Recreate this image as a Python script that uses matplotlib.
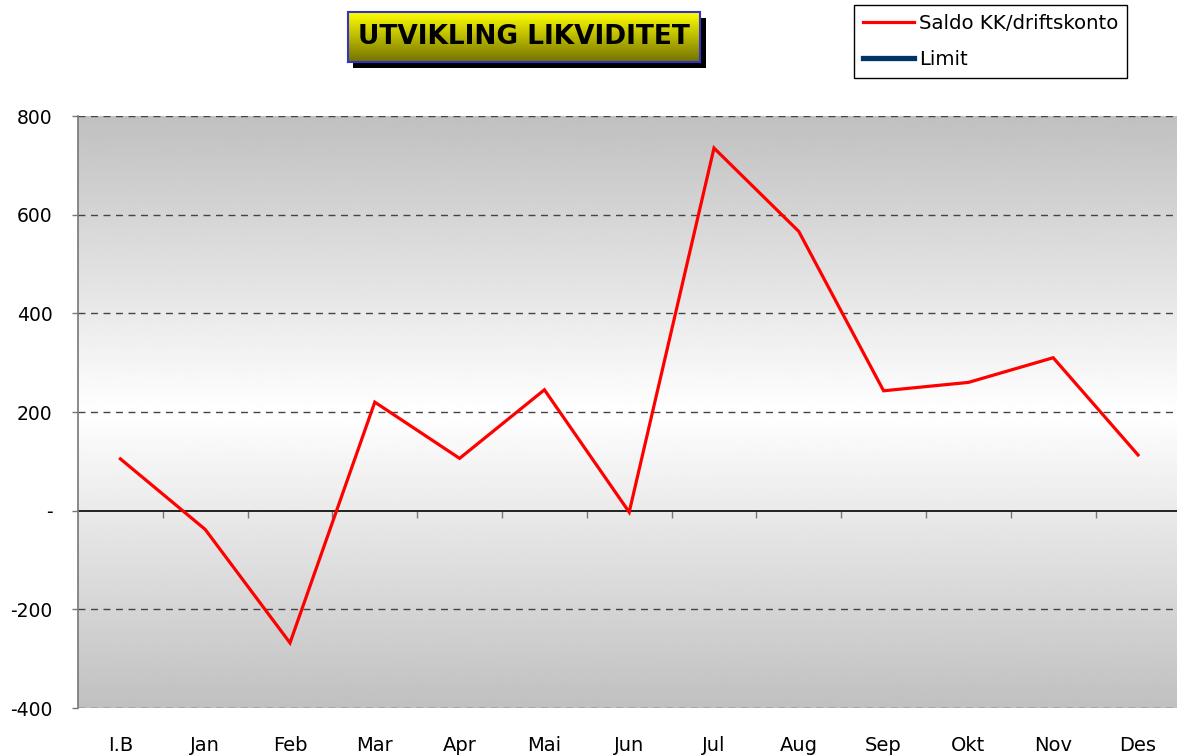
import numpy as np
import matplotlib
matplotlib.use('Agg')
import matplotlib.pyplot as plt
from matplotlib.patches import Rectangle

plt.rcParams['font.family'] = ['DejaVu Sans']

# data
months = ['I.B', 'Jan', 'Feb', 'Mar', 'Apr', 'Mai', 'Jun', 'Jul', 'Aug', 'Sep', 'Okt', 'Nov', 'Des']
saldo = [105, -38, -268, 220, 106, 245, -3, 735, 566, 243, 260, 310, 113]
limit = [None] * 13  # limit series is not visible in the chart
y_ticks = [-400, -200, 0, 200, 400, 600, 800]
y_labels = ['-400', '-200', '-', '200', '400', '600', '800']
title = 'UTVIKLING LIKVIDITET'

W, H = 1177, 756
fig = plt.figure(figsize=(W / 100, H / 100), dpi=100)

# plot area in pixels: left 78, top 116, bottom 708, step 84.8 per category
left, top, bottom = 78, 116, 708
width = 13 * 84.8
ax = fig.add_axes([left / W, 1 - bottom / H, width / W, (bottom - top) / H])
ax.set_xlim(-0.5, 12.5)
ax.set_ylim(-400, 800)

# background gradient, gray at edges, white around 200
yy = np.linspace(800, -400, 300)
shade = np.where(yy > 200, 255 - 63 * (yy - 200) / 600, 255 - 63 * (200 - yy) / 600) / 255
grad = np.repeat(shade[:, None], 2, axis=1)
ax.imshow(grad, cmap='gray', vmin=0, vmax=1, aspect='auto',
          extent=(-0.5, 12.5, -400, 800), zorder=0, interpolation='bilinear')

for t in y_ticks:
    if t != 0:
        ax.axhline(t, color='#444444', lw=1, ls=(0, (5, 4)), zorder=1)

x = np.arange(len(months))
ax.plot(x, saldo, color='#ff0000', lw=2.3, zorder=3, label='Saldo KK/driftskonto', solid_joinstyle='miter')
ax.plot(x, np.array(limit, dtype=float), color='#003366', lw=3.8, zorder=3, label='Limit')

for s in ['top', 'right', 'bottom']:
    ax.spines[s].set_visible(False)
ax.spines['left'].set_color('#777777')
ax.spines['left'].set_linewidth(1.2)

ax.set_yticks(y_ticks, y_labels, fontsize=13.5)
ax.tick_params(axis='y', length=4.3, width=1, color='#777777', pad=14)
ax.set_xticks(x, months, fontsize=14)
ax.tick_params(axis='x', length=0, pad=20)

# category axis crossing at zero
sec = ax.secondary_xaxis(400 / 1200)
sec.set_xticks(np.arange(0.5, 12.5, 1))
sec.set_xticklabels([])
sec.tick_params(axis='x', direction='out', length=5, width=1, color='#777777')
sec.spines['bottom'].set_color('black')
sec.spines['bottom'].set_linewidth(1.2)

# title box with shadow and yellow gradient
bx0, bx1, by0, by1 = 348, 700, 12, 62
fig.patches.append(Rectangle(((bx0 + 5) / W, 1 - (by1 + 6) / H), (bx1 - bx0 + 1) / W, (by1 - by0) / H,
                             transform=fig.transFigure, facecolor='black', edgecolor='none', zorder=1))
tax = fig.add_axes([bx0 / W, 1 - by1 / H, (bx1 - bx0) / W, (by1 - by0) / H], zorder=2)
g = np.linspace(0, 1, 100)[:, None]
rgb = np.zeros((100, 2, 3))
rgb[:, :, 0] = (1 - 0.55 * g)
rgb[:, :, 1] = (1 - 0.55 * g)
tax.imshow(rgb, aspect='auto', extent=(0, 1, 0, 1), interpolation='bilinear')
tax.set_xticks([])
tax.set_yticks([])
for s in tax.spines.values():
    s.set_color('#3333cc')
    s.set_linewidth(1.5)
tax.text(0.5, 0.5, title, ha='center', va='center', fontsize=19, fontweight='bold',
         transform=tax.transAxes)

leg = fig.legend(loc='upper left', bbox_to_anchor=(854 / W, 1 - 5 / H), fontsize=14.2,
                 frameon=True, fancybox=False, edgecolor='black', framealpha=1,
                 handlelength=2.6, handletextpad=0.25, labelspacing=0.85, borderpad=0.45,
                 borderaxespad=0)
leg.get_frame().set_linewidth(1)

fig.savefig('out.png', dpi=100)
